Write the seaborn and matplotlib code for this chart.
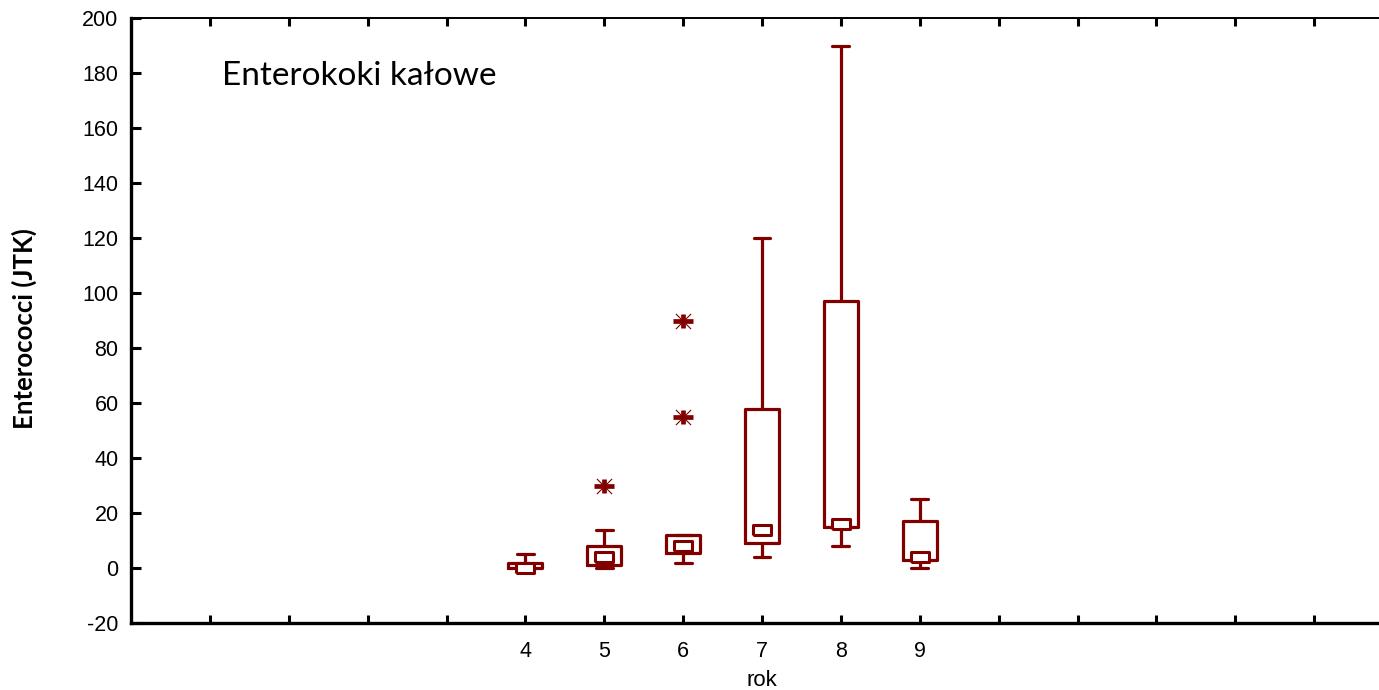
import numpy as np
import pandas as pd
import matplotlib
matplotlib.use("Agg")
import matplotlib.pyplot as plt
import seaborn as sns

# Box statistics (Statistica style: median square, 25-75% box,
# non-outlier range whiskers, outliers as asterisks)
years = [4, 5, 6, 7, 8, 9]
whisker_low = [0, 0, 2, 4, 8, 0]
q1 = [0, 1, 5.5, 9, 15, 3]
median = [0, 4, 8, 14, 16, 4]
q3 = [2, 8, 12, 58, 97, 17]
whisker_high = [5, 14, 12, 120, 190, 25]

outlier_years = [5, 6, 6]
outlier_values = [30, 55, 90]

tick_positions = list(range(0, 15))
tick_labels = ["", "", "", "", "4", "5", "6", "7", "8", "9", "", "", "", "", ""]
y_ticks = list(range(-20, 201, 20))

COLOR = "#800000"

sns.set_style("ticks")
plt.rcParams["font.family"] = ["Liberation Sans", "DejaVu Sans"]

# five values per year -> quartiles/median land exactly on the read values
rows = []
for i, yr in enumerate(years):
    for v in (whisker_low[i], q1[i], median[i], q3[i], whisker_high[i]):
        rows.append({"rok": yr, "value": v})
df = pd.DataFrame(rows)

fig = plt.figure(figsize=(13.79, 6.90), dpi=100)
ax = fig.add_axes([131 / 1379, 67 / 690, 1262 / 1379, 605 / 690])

sns.boxplot(data=df, x="rok", y="value", native_scale=True, width=0.43,
            whis=(0, 100), fill=False, color=COLOR, linewidth=2.3,
            showfliers=False, medianprops={"alpha": 0}, ax=ax)

# median as small hollow rectangle
rect = [(-1, -0.6), (1, -0.6), (1, 0.6), (-1, 0.6), (-1, -0.6)]
sns.scatterplot(x=years, y=median, marker=rect, s=150, color="white",
                edgecolor=COLOR, linewidth=2.2, zorder=5, ax=ax)

# outliers as asterisks (wide bar, short stem, thin diagonals)
sns.scatterplot(x=outlier_years, y=outlier_values, marker="_", s=190,
                color=COLOR, linewidth=3.4, zorder=5, ax=ax)
sns.scatterplot(x=outlier_years, y=outlier_values, marker="|", s=95,
                color=COLOR, linewidth=3.4, zorder=5, ax=ax)
sns.scatterplot(x=outlier_years, y=outlier_values, marker="x", s=120,
                color=COLOR, linewidth=0.8, zorder=5, ax=ax)

ax.set_xlim(-1, 15)
ax.set_ylim(-20, 200)
ax.set_xticks(tick_positions)
ax.set_xticklabels(tick_labels)
ax.set_yticks(y_ticks)
ax.set_yticklabels([str(t) for t in y_ticks])

ax.spines["left"].set_linewidth(2.4)
ax.spines["bottom"].set_linewidth(2.4)
ax.spines["top"].set_linewidth(1.4)
ax.spines["right"].set_visible(False)
for s in ("left", "bottom", "top"):
    ax.spines[s].set_color("black")

ax.tick_params(axis="y", direction="in", length=7, width=2.2, pad=9,
               labelsize=15.5, colors="black")
ax.tick_params(axis="x", direction="in", length=6, width=2.2, pad=13,
               labelsize=15.5, colors="black", top=True)
ax.tick_params(axis="x", which="major", labeltop=False)

ax.set_xlabel("rok", fontsize=16, va="center", color="black")
ax.xaxis.set_label_coords(0.5, -(681 - 623) / 605)
ax.set_ylabel("Enterococci (JTK)", fontsize=18.5, fontweight="bold",
              family=["Lato", "DejaVu Sans"], color="black")
ax.yaxis.set_label_coords(-(131 - 37) / 1262, (690 - 329 - 67) / 605)

ax.text((222 - 131) / 1262, (690 - 76 - 67) / 605, "Enterokoki kałowe",
        transform=ax.transAxes, fontsize=24, va="center", ha="left",
        family=["Lato", "DejaVu Sans"], color="black")

plt.savefig("out.png", dpi=100)
plt.close()
